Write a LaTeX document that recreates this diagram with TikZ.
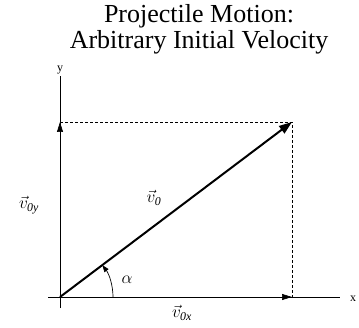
\documentclass[tikz,border=0pt]{standalone}
\usepackage{fontspec}
\setmainfont{Liberation Serif}
\usetikzlibrary{arrows.meta,positioning,calc}
\tikzset{
  axe/.style={line width=0.7pt, draw=black},
  compo/.style={-{Triangle[length=10pt,width=6pt]}, line width=0.7pt},
  vitesse/.style={-{Triangle[length=13pt,width=9pt]}, line width=2pt},
  proj/.style={line width=0.7pt, dash pattern=on 3pt off 2pt},
  etiq/.style={font=\fontsize{17}{17}\selectfont, inner sep=0pt},
  titre/.style={font=\fontsize{26}{28}\selectfont, anchor=base, inner sep=0pt},
}

\begin{document}
\begin{tikzpicture}[x=1pt, y=1pt]
    \useasboundingbox (0,0) rectangle (359,327);
    % titre
    \node[titre] (t1) at (199,304) {Projectile Motion:};
    \node[titre] (t2) at (199,278) {Arbitrary Initial Velocity};
    % repere
    \coordinate (o) at (60,30);
    \coordinate (p) at (292,205);
    \coordinate (py) at (60,205);
    \coordinate (px) at (292,30);
    \coordinate (xg) at (48,30);
    \coordinate (xd) at (340,30);
    \coordinate (yb) at (60,19);
    \coordinate (yh) at (60,251);
    \draw[axe] (xg) -- (xd);
    \draw[axe] (yb) -- (yh);
    \node[font=\fontsize{12}{12}\selectfont, anchor=west, inner sep=0pt] (lx) at (350,28) {x};
    \node[font=\fontsize{12}{12}\selectfont, anchor=south, inner sep=0pt] (ly) at (60,253) {y};
    % projections
    \draw[proj] (py) -- (p) -- (px);
    % composantes et vitesse
    \draw[compo] (o) -- (py);
    \draw[compo] (o) -- (px);
    \draw[vitesse] (o) -- (p);
    \draw[-{Triangle[length=7pt,width=5pt]}, line width=0.7pt] (o) ++(0:53) arc[start angle=0, end angle=37, radius=53];
    % etiquettes
    \node[etiq] (v0) at (154,129) {$\vec{v}_{\mathit{0}}$};
    \node[etiq] (v0y) at (29,122) {$\vec{v}_{\mathit{0y}}$};
    \node[etiq] (v0x) at (182,14) {$\vec{v}_{\mathit{0x}}$};
    \node[etiq, font=\fontsize{19}{19}\selectfont] (al) at (127,47) {$\alpha$};
  \end{tikzpicture}
\end{document}
